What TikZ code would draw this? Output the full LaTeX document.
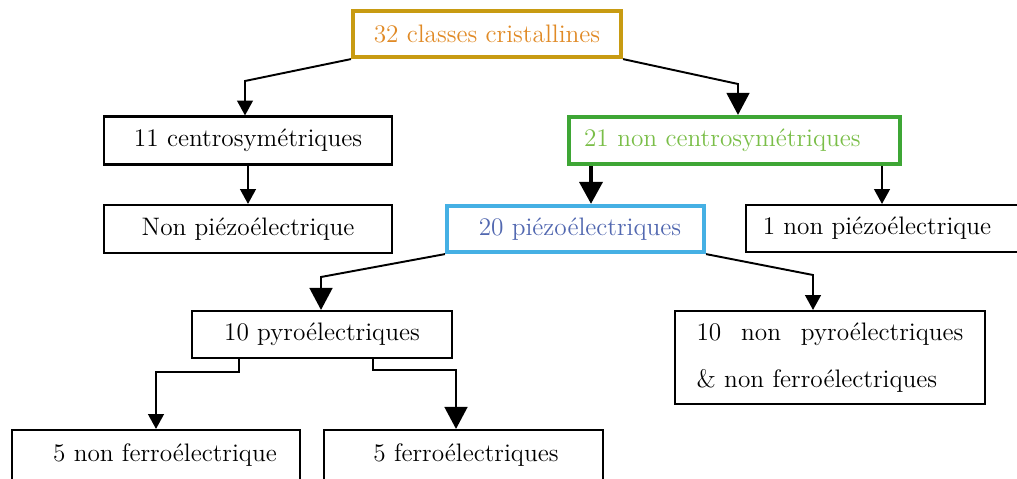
\documentclass[tikz,border=0pt]{standalone}
\usetikzlibrary{arrows.meta,calc}
\definecolor{goldbox}{RGB}{200,155,18}
\definecolor{orangetxt}{RGB}{224,138,38}
\definecolor{greenbox}{RGB}{62,166,53}
\definecolor{greentxt}{RGB}{122,190,72}
\definecolor{bluebox}{RGB}{69,176,228}
\definecolor{bluetxt}{RGB}{82,104,176}
\begin{document}
\begin{tikzpicture}[x=0.02cm,y=-0.02cm,
  box/.style={draw=black,line width=1.2pt,rectangle,inner sep=0pt,font=\fontsize{14.4}{17}\selectfont},
  thickbox/.style={box,line width=2.4pt},
  link/.style={line width=1.1pt,-{Triangle[width=9pt,length=8.5pt]}},
  biglink/.style={line width=1.1pt,-{Triangle[width=13pt,length=12.5pt]}}]
\useasboundingbox (0,0) rectangle (1017,479);
\node[thickbox,draw=goldbox,text=orangetxt,minimum width=5.36cm,minimum height=0.92cm] (top) at (487,34) {32 classes cristallines};
\node[box,minimum width=5.76cm,minimum height=0.96cm] (c11) at (248,140.5) {11 centrosymétriques};
\node[thickbox,draw=greenbox,text=greentxt,text width=6.02cm,inner xsep=0.3cm,align=left,minimum height=0.94cm] (c21) at (734.5,140.5) {21 non centrosymétriques};
\node[box,minimum width=5.76cm,minimum height=0.96cm] (np) at (248,229) {Non piézoélectrique};
\node[thickbox,draw=bluebox,text=bluetxt,minimum width=5.14cm,minimum height=0.92cm] (p20) at (575.5,229) {\hspace*{0.18cm}20 piézoélectriques};
\node[box,minimum width=5.44cm,minimum height=0.94cm] (np1) at (882,228.5) {1 non piézoélectrique\hspace*{0.2cm}};
\node[box,minimum width=5.2cm,minimum height=0.94cm] (pyro) at (322,334.5) {10 pyroélectriques};
\node[box,text width=5.34cm,inner xsep=0.43cm,align=left,minimum height=1.86cm,font=\fontsize{14.4}{26.6}\selectfont] (npyro) at (830,357.5) {10\hfill non\hfill pyroélectriques\\ \& non ferroélectriques};
\node[box,minimum width=5.76cm,minimum height=1.0cm] (nf5) at (156,455) {\hspace*{0.36cm}5 non ferroélectrique};
\node[box,minimum width=5.58cm,minimum height=1.0cm] (f5) at (463.5,455) {\hspace*{0.1cm}5 ferroélectriques};
\coordinate (k1) at (245,81);
\coordinate (k2) at (738,84);
\coordinate (k3) at (591,0);
\coordinate (k5) at (321,277);
\coordinate (k6) at (813,275);
\coordinate (k7) at (239,372);
\coordinate (k8) at (373,370);
\coordinate (k9) at (456,370);
\draw[link] (top.south west) -- (k1) -- (k1 |- c11.north);
\draw[biglink] (top.south east) -- (k2) -- (k2 |- c21.north);
\draw[link] (c11.south) -- (np.north);
\draw[biglink,line width=2.3pt] (c21.south -| k3) -- (p20.north -| k3);
\draw[link] (np1.north |- c21.south) -- (np1.north);
\draw[biglink] (p20.south west) -- (k5) -- (k5 |- pyro.north);
\draw[link] (p20.south east) -- (k6) -- (k6 |- npyro.north);
\draw[link] (pyro.south -| k7) -- (k7) -- (k7 -| nf5.north) -- (nf5.north);
\draw[biglink] (pyro.south -| k8) -- (k8) -- (k9) -- (k9 |- f5.north);
\end{tikzpicture}
\end{document}
